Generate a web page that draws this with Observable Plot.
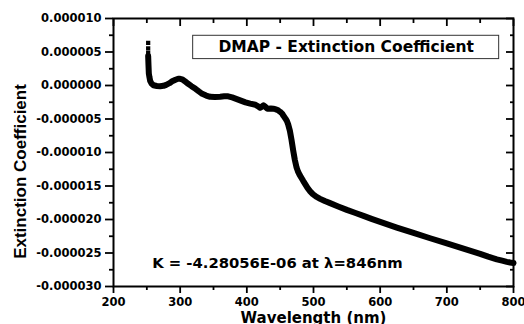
<!DOCTYPE html>
<html><head><meta charset="utf-8">
<script src="https://cdn.jsdelivr.net/npm/d3@7"></script>
<script src="https://cdn.jsdelivr.net/npm/@observablehq/plot@0.6"></script>
<style>
body{margin:0;background:#fff}
</style>
</head><body><div id="chart"></div>
<script>
// Wavelength (nm)
const wavelength = [252,252.5,253,254,255,257,260,265,270,275,279,284,288,293,297,300,303,307,312,317,323,328,333,339,345,352,360,366,372,378,384,391,398,405,413,417,420,422,425,428,431,436,440,443,447,450,453,455,458,460,462,464.6,467,469.6,472,474.6,477,479,482,484.5,488,491,495,499,504,510,517,524,537,550,562,575,587,600,625,650,675,700,725,750,762,775,783,790,795,800];
// Extinction coefficient
const extinction = [4.4e-6,3.0e-6,1.8e-6,1.2e-6,0.7e-6,0.3e-6,0.03e-6,-0.08e-6,-0.12e-6,-0.05e-6,0.10e-6,0.35e-6,0.62e-6,0.85e-6,1.00e-6,1.0e-6,0.92e-6,0.65e-6,0.25e-6,-0.1e-6,-0.5e-6,-0.88e-6,-1.24e-6,-1.5e-6,-1.69e-6,-1.72e-6,-1.69e-6,-1.62e-6,-1.62e-6,-1.78e-6,-1.99e-6,-2.25e-6,-2.51e-6,-2.7e-6,-2.88e-6,-3.1e-6,-3.33e-6,-3.2e-6,-2.96e-6,-3.2e-6,-3.48e-6,-3.45e-6,-3.48e-6,-3.53e-6,-3.71e-6,-3.93e-6,-4.2e-6,-4.53e-6,-4.95e-6,-5.27e-6,-5.8e-6,-6.77e-6,-8.1e-6,-9.75e-6,-11.1e-6,-12.25e-6,-12.9e-6,-13.3e-6,-13.8e-6,-14.23e-6,-14.8e-6,-15.28e-6,-15.8e-6,-16.22e-6,-16.6e-6,-16.92e-6,-17.25e-6,-17.52e-6,-18.05e-6,-18.56e-6,-19.0e-6,-19.46e-6,-19.9e-6,-20.35e-6,-21.2e-6,-22.0e-6,-22.8e-6,-23.56e-6,-24.35e-6,-25.13e-6,-25.55e-6,-25.95e-6,-26.15e-6,-26.32e-6,-26.42e-6,-26.5e-6];
// sparse first points (dotted start)
const startWavelength = [252,252,252];
const startExtinction = [6.36e-6,5.54e-6,4.87e-6];

const xTicks = [200,300,400,500,600,700,800];
const xMinorTicks = [250,350,450,550,650,750];
const yTicks = [-30e-6,-25e-6,-20e-6,-15e-6,-10e-6,-5e-6,0,5e-6,10e-6];
const yTickLabels = ["-0.000030","-0.000025","-0.000020","-0.000015","-0.000010","-0.000005","0.000000","0.000005","0.000010"];
const yMinorTicks = [-27.5e-6,-22.5e-6,-17.5e-6,-12.5e-6,-7.5e-6,-2.5e-6,2.5e-6,7.5e-6];

const legendTitle = "DMAP - Extinction Coefficient";
const legendBox = [{x1:319.5, x2:778.5, y1:7.42e-6, y2:3.94e-6, xc:549, yc:5.68e-6}];
const annotation = [{x:258, y:-26.46e-6, text:"K = -4.28056E-06 at \u03bb=846nm"}];
const xLabel = "Wavelength (nm)";
const yLabel = "Extinction Coefficient";

const data = wavelength.map((w, i) => ({w, e: extinction[i]}));
const startData = startWavelength.map((w, i) => ({w, e: startExtinction[i]}));
const yLabelOf = new Map(yTicks.map((t, i) => [t, yTickLabels[i]]));

const font = "DejaVu Sans";
const chart = Plot.plot({
  width: 524, height: 324,
  marginLeft: 113, marginRight: 11, marginTop: 18, marginBottom: 38,
  style: {fontFamily: font, fontWeight: "bold", fontSize: "11.5px", color: "black", background: "white", overflow: "visible"},
  x: {domain: [200, 800]},
  y: {domain: [-30e-6, 10e-6]},
  marks: [
    // bottom axis (outward)
    Plot.axisX(xTicks, {anchor: "bottom", tickSize: 7, tickPadding: 4, strokeWidth: 1.8, label: null, tickFormat: d => String(d), fontSize: 11.5, fontWeight: "bold"}),
    Plot.axisX(xMinorTicks, {anchor: "bottom", tickSize: 4, strokeWidth: 1.8, label: null, tickFormat: () => ""}),
    // top axis (inward)
    Plot.axisX(xTicks, {anchor: "top", tickSize: -7, strokeWidth: 1.8, label: null, tickFormat: () => ""}),
    Plot.axisX(xMinorTicks, {anchor: "top", tickSize: -4, strokeWidth: 1.8, label: null, tickFormat: () => ""}),
    // left axis (outward)
    Plot.axisY(yTicks, {anchor: "left", tickSize: 8, tickPadding: 4, strokeWidth: 1.8, label: null, tickFormat: d => yLabelOf.get(d), fontSize: 11.5, fontWeight: "bold"}),
    Plot.axisY(yMinorTicks, {anchor: "left", tickSize: 4, strokeWidth: 1.8, label: null, tickFormat: () => ""}),
    // right axis (inward)
    Plot.axisY(yTicks, {anchor: "right", tickSize: -8, strokeWidth: 1.8, label: null, tickFormat: () => ""}),
    Plot.axisY(yMinorTicks, {anchor: "right", tickSize: -4, strokeWidth: 1.8, label: null, tickFormat: () => ""}),
    Plot.frame({stroke: "black", strokeWidth: 2}),
    // legend box
    Plot.rect(legendBox, {x1: "x1", x2: "x2", y1: "y1", y2: "y2", fill: "white", stroke: "#333", strokeWidth: 1}),
    Plot.text(legendBox, {x: "xc", y: "yc", text: () => legendTitle, fontSize: 15.5, fontWeight: "bold", fill: "black", fontFamily: font}),
    // data
    Plot.line(data, {x: "w", y: "e", stroke: "black", strokeWidth: 6, strokeLinejoin: "round"}),
    Plot.dot(startData, {x: "w", y: "e", symbol: "square", r: 2.4, fill: "black"}),
    // annotation
    Plot.text(annotation, {x: "x", y: "y", text: "text", textAnchor: "start", fontSize: 14.8, fontWeight: "bold", fill: "black", fontFamily: font}),
    // axis titles
    Plot.text([xLabel], {frameAnchor: "bottom", textAnchor: "middle", lineAnchor: "middle", dy: 32, text: d => d, fontSize: 15, fontWeight: "bold", fill: "black", fontFamily: font}),
    Plot.text([yLabel], {frameAnchor: "left", textAnchor: "middle", lineAnchor: "middle", dx: -93, dy: 19, rotate: -90, text: d => d, fontSize: 17, fontWeight: "bold", fill: "black", fontFamily: "Liberation Sans"})
  ]
});
document.getElementById("chart").append(chart);
</script>
</body></html>
